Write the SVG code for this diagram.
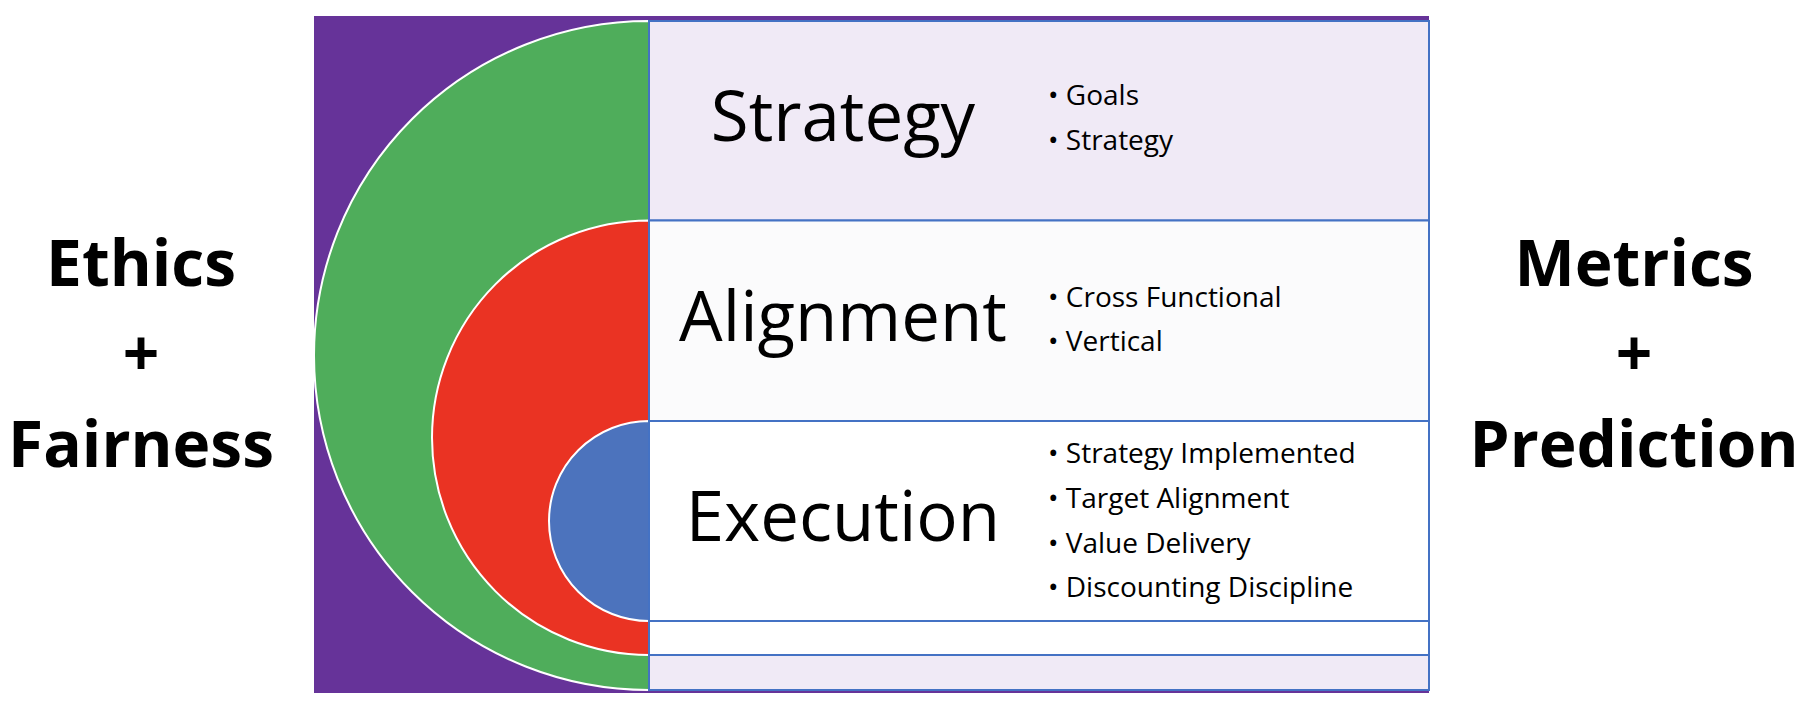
<svg xmlns="http://www.w3.org/2000/svg" width="1810" height="714" viewBox="0 0 1810 714">
<style>
.side{font-family:"Open Sans","Liberation Sans",sans-serif;font-weight:bold;font-size:64px;fill:#000;text-anchor:middle}
.big{font-family:"Open Sans","Liberation Sans",sans-serif;font-size:69px;fill:#000;text-anchor:middle}
.bl{font-family:"Open Sans","Liberation Sans",sans-serif;font-size:28px;fill:#000}
.row{stroke:#4472C4;stroke-width:2}
.arc{stroke:#fff;stroke-width:2}
</style>
<rect x="0" y="0" width="1810" height="714" fill="#fff"/>
<g id="left-label">
<text class="side" x="141" y="286">Ethics</text>
<text class="side" x="141" y="376">+</text>
<text class="side" x="141" y="467">Fairness</text>
</g>
<g id="right-label">
<text class="side" x="1634" y="286">Metrics</text>
<text class="side" x="1634" y="376">+</text>
<text class="side" x="1634" y="467">Prediction</text>
</g>
<g id="background"><rect x="314" y="16" width="1115" height="677" fill="#663399"/></g>
<g id="arcs">
<path class="arc" d="M649,21 A335,334.5 0 0 0 649,690 Z" fill="#4FAD5B"/>
<path class="arc" d="M649,220.5 A217,217.25 0 0 0 649,655 Z" fill="#EA3323"/>
<path class="arc" d="M649,421 A100,100 0 0 0 649,621 Z" fill="#4C73BD"/>
</g>
<g id="rows">
<rect class="row" x="649" y="21" width="780" height="199.5" fill="#F0EAF6"/>
<rect class="row" x="649" y="220.5" width="780" height="200.5" fill="#FBFBFC"/>
<rect class="row" x="649" y="421" width="780" height="200" fill="#fff"/>
<rect class="row" x="649" y="621" width="780" height="34" fill="#fff"/>
<rect class="row" x="649" y="655" width="780" height="35" fill="#F0EAF6"/>
</g>
<g id="strategy">
<text class="big" x="843" y="141">Strategy</text>
<text class="bl" x="1048" y="105">• Goals</text>
<text class="bl" x="1048" y="150">• Strategy</text>
</g>
<g id="alignment">
<text class="big" x="843" y="341">Alignment</text>
<text class="bl" x="1048" y="307">• Cross Functional</text>
<text class="bl" x="1048" y="351">• Vertical</text>
</g>
<g id="execution">
<text class="big" x="843" y="541">Execution</text>
<text class="bl" x="1048" y="463">• Strategy Implemented</text>
<text class="bl" x="1048" y="508">• Target Alignment</text>
<text class="bl" x="1048" y="553">• Value Delivery</text>
<text class="bl" x="1048" y="597">• Discounting Discipline</text>
</g>
</svg>
